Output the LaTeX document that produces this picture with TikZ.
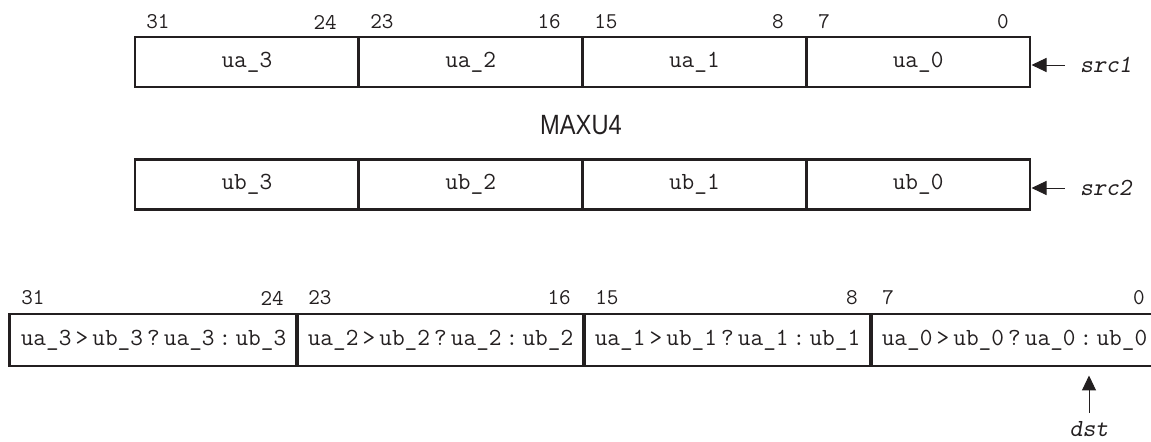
\documentclass[tikz,border=0pt]{standalone}
\usepackage{fontspec}
\setmainfont{Liberation Serif}
\newfontfamily\opsans[FakeStretch=0.85]{Liberation Sans}
\usetikzlibrary{arrows.meta}
\definecolor{regink}{HTML}{231F20}

\begin{document}
\begin{tikzpicture}[x=0.025cm,y=0.025cm,
  cellA/.style={draw=regink,line width=2.1pt,minimum width=5.594cm,minimum height=1.25cm,inner sep=0pt,text=regink,font=\ttfamily\fontsize{17.5}{20}\selectfont},
  cellR/.style={cellA,minimum width=7.175cm,minimum height=1.3cm},
  bitno/.style={inner sep=0pt,text=regink,font=\ttfamily\fontsize{16}{19}\selectfont},
  regname/.style={inner sep=0pt,text=regink,font=\ttfamily\slshape\fontsize{17.5}{20}\selectfont},
  pointer/.style={draw=regink,line width=0.7pt,-{Triangle[length=0.375cm,width=0.35cm]}}]
\path[use as bounding box] (0,0) rectangle (1151,441);
% src1
\node[cellA] (ua3) at (246.9,379) {ua\_3};
\node[cellA] (ua2) at (470.6,379) {ua\_2};
\node[cellA] (ua1) at (694.4,379) {ua\_1};
\node[cellA] (ua0) at (918.1,379) {ua\_0};
\node[bitno,anchor=west] (a31) at (146,419) {31};
\node[bitno,anchor=east] (a24) at (337,419) {24};
\node[bitno,anchor=west] (a23) at (370,419) {23};
\node[bitno,anchor=east] (a16) at (561,419) {16};
\node[bitno,anchor=west] (a15) at (594,419) {15};
\node[bitno,anchor=east] (a8) at (784,419) {8};
\node[bitno,anchor=west] (a7) at (818,419) {7};
\node[bitno,anchor=east] (a0) at (1009,419) {0};
\node[regname] (src1) at (1106,376) {src1};
\draw[pointer,shorten <=0.375cm] (src1.west) -- (src1.west -| ua0.east);
\node[inner sep=0pt,text=regink,font=\opsans\fontsize{19.8}{22}\selectfont] (opname) at (581,316) {MAXU4};
% src2
\node[cellA] (ub3) at (246.9,256.5) {ub\_3};
\node[cellA] (ub2) at (470.6,256.5) {ub\_2};
\node[cellA] (ub1) at (694.4,256.5) {ub\_1};
\node[cellA] (ub0) at (918.1,256.5) {ub\_0};
\node[regname] (src2) at (1106,253) {src2};
\draw[pointer,shorten <=0.375cm] (src2.west) -- (src2.west -| ub0.east);
% dst
\node[cellR] (res3) at (153.5,101) {ua\_3\,>\,ub\_3\,?\,ua\_3\,:\,ub\_3};
\node[cellR] (res2) at (440.5,101) {ua\_2\,>\,ub\_2\,?\,ua\_2\,:\,ub\_2};
\node[cellR] (res1) at (727.5,101) {ua\_1\,>\,ub\_1\,?\,ua\_1\,:\,ub\_1};
\node[cellR] (res0) at (1014.5,101) {ua\_0\,>\,ub\_0\,?\,ua\_0\,:\,ub\_0};
\node[bitno,anchor=west] (r31) at (21,143) {31};
\node[bitno,anchor=east] (r24) at (284,143) {24};
\node[bitno,anchor=west] (r23) at (308,143) {23};
\node[bitno,anchor=east] (r16) at (571,143) {16};
\node[bitno,anchor=west] (r15) at (595,143) {15};
\node[bitno,anchor=east] (r8) at (858,143) {8};
\node[bitno,anchor=west] (r7) at (882,143) {7};
\node[bitno,anchor=east] (r0) at (1145,143) {0};
\node[regname,anchor=base] (dst) at (1089,5) {dst};
\draw[pointer,shorten <=0.2cm,shorten >=0.2cm] (dst.north) -- (dst.north |- res0.south);
\end{tikzpicture}
\end{document}
